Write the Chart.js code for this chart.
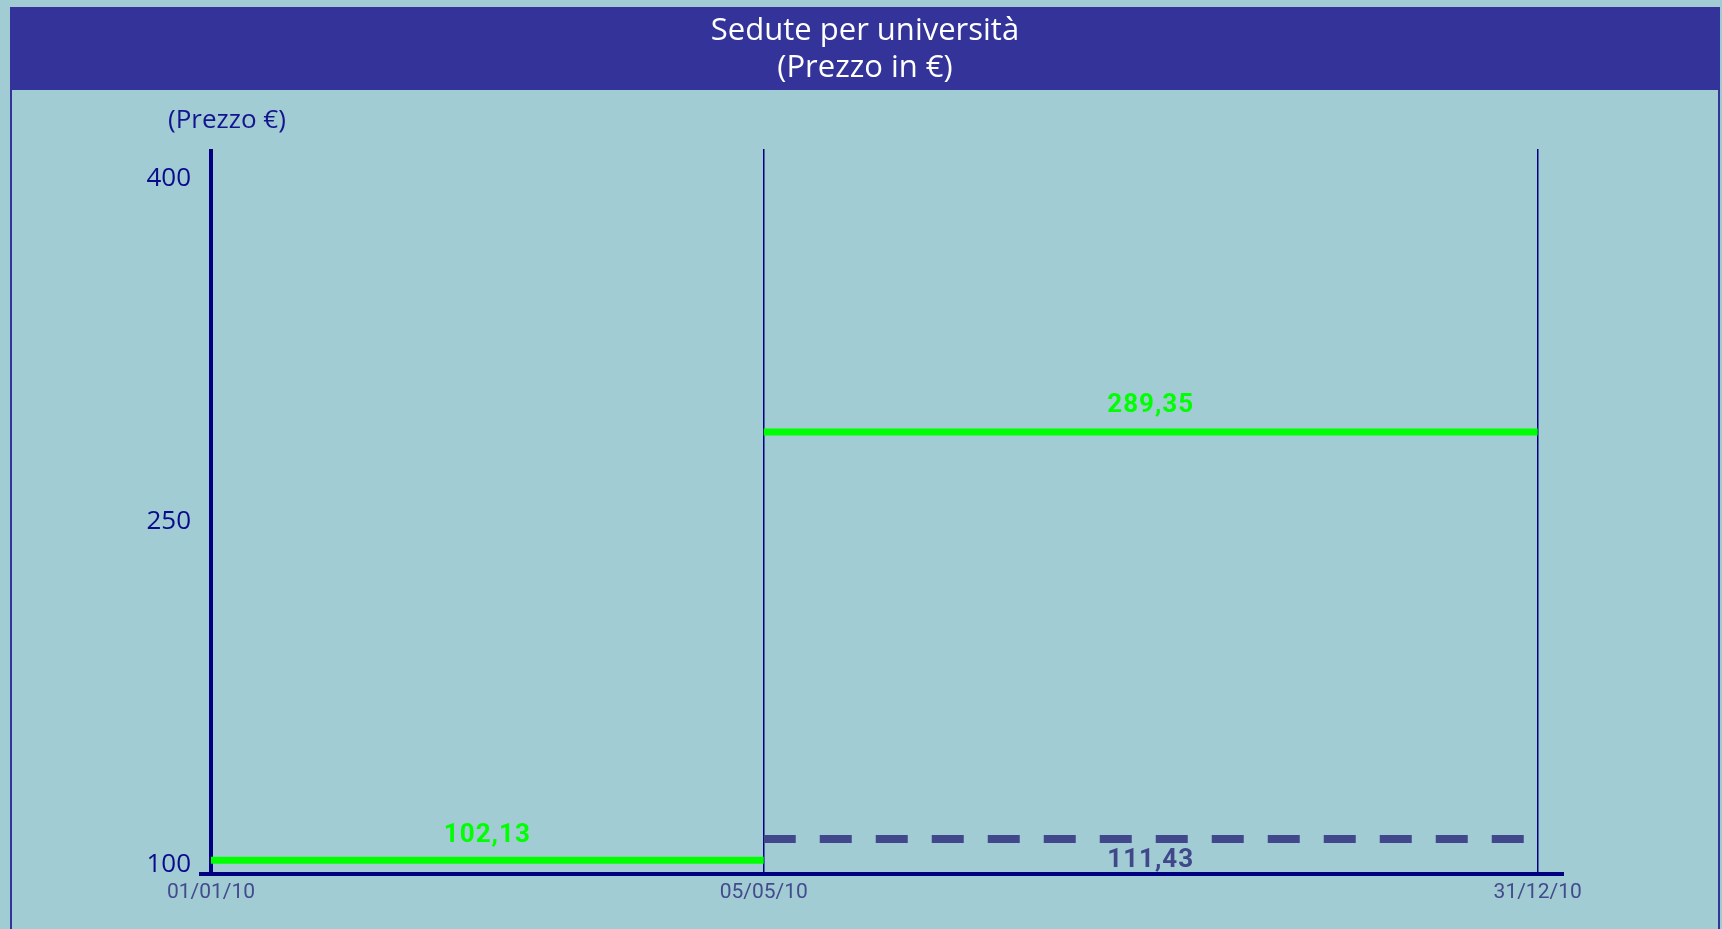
<!DOCTYPE html>
<html>
<head>
<meta charset="utf-8">
<title>Sedute per università</title>
<script src="https://cdn.jsdelivr.net/npm/chart.js@4"></script>
<style>
  html, body { margin: 0; padding: 0; background: #a2ccd3; overflow: hidden; }
</style>
</head>
<body>
<canvas id="chart" width="1722" height="929"></canvas>
<script>
// Periods (months from 01/01/10) and their date labels
const dateLabels = ["01/01/10", "05/05/10", "31/12/10"];
const monthPos = [0, 5, 12];

// Price per period
const prezzoUniversita = [102.13, 289.35];
const prezzoRiferimento = [null, 111.43];

const yTicks = [100, 250, 400];

const titleLines = ["Sedute per università", "(Prezzo in €)"];

const NAVY = "#000080";
const GREEN = "#00ff00";
const SLATE = "#40478a";

// Build one dataset per period segment
function segments(values, style) {
  const out = [];
  values.forEach((v, i) => {
    if (v === null) return;
    out.push(Object.assign({
      data: [{ x: monthPos[i], y: v }, { x: monthPos[i + 1], y: v }],
      showLine: true,
      pointRadius: 0,
      fill: false
    }, style(i)));
  });
  return out;
}

const datasets = [
  ...segments(prezzoUniversita, i => ({
    borderColor: GREEN, borderWidth: 7,
    labelColor: GREEN, labelOffset: i === 0 ? -25 : -27
  })),
  ...segments(prezzoRiferimento, () => ({
    borderColor: SLATE, borderWidth: 8, borderDash: [32, 24],
    labelColor: SLATE, labelOffset: 22
  }))
];

// Background, header band with title, and frame
const frame = {
  id: "frame",
  beforeDraw(chart) {
    const ctx = chart.ctx;
    ctx.save();
    ctx.fillStyle = "#a2ccd3";
    ctx.fillRect(0, 0, chart.width, chart.height);
    ctx.fillStyle = "#333399";
    ctx.fillRect(11, 7, 1708, 83);
    ctx.strokeStyle = "#333399";
    ctx.lineWidth = 2;
    ctx.beginPath();
    ctx.moveTo(11, 7); ctx.lineTo(11, chart.height);
    ctx.moveTo(1719, 7); ctx.lineTo(1719, chart.height);
    ctx.stroke();

    ctx.font = "31px 'Open Sans'";
    ctx.fillStyle = "#ffffff";
    ctx.textAlign = "center";
    ctx.textBaseline = "middle";
    titleLines.forEach((t, i) => ctx.fillText(t, chart.width / 2 + 4, 31 + i * 37));
    ctx.restore();
  }
};

// Value labels at the middle of each segment
const valueLabels = {
  id: "valueLabels",
  afterDatasetsDraw(chart) {
    const { ctx, scales: { x, y } } = chart;
    chart.data.datasets.forEach(ds => {
      const p = ds.data;
      const mx = x.getPixelForValue((p[0].x + p[1].x) / 2);
      const py = y.getPixelForValue(p[0].y);
      ctx.save();
      ctx.font = "bold 26px Roboto";
      ctx.letterSpacing = "1px";
      ctx.fillStyle = ds.labelColor;
      ctx.textAlign = "center";
      ctx.textBaseline = "middle";
      ctx.fillText(p[0].y.toFixed(2).replace(".", ","), mx, py + ds.labelOffset);
      ctx.restore();
    });
  }
};

// Horizontal y-axis title above the axis
const axisTitle = {
  id: "axisTitle",
  afterDraw(chart) {
    const ctx = chart.ctx;
    const x = chart.scales.x.getPixelForValue(0);
    ctx.save();
    ctx.font = "26px 'Open Sans'";
    ctx.fillStyle = "#14148f";
    ctx.textAlign = "center";
    ctx.textBaseline = "middle";
    ctx.fillText("(Prezzo €)", x + 16, 121);
    ctx.restore();
  }
};

new Chart(document.getElementById("chart"), {
  type: "scatter",
  data: { datasets },
  options: {
    responsive: false,
    animation: false,
    devicePixelRatio: 1,
    layout: { padding: { left: 0, right: 160, top: 149, bottom: 0 } },
    plugins: {
      legend: { display: false },
      tooltip: { enabled: false },
      title: { display: false }
    },
    scales: {
      x: {
        type: "linear",
        min: -0.09,
        max: 12.22,
        afterBuildTicks: s => { s.ticks = monthPos.map(v => ({ value: v })); },
        afterFit: s => { s.height = 55; },
        ticks: {
          callback: v => dateLabels[monthPos.indexOf(v)],
          color: "#434a8e",
          font: { family: "Roboto", size: 21 },
          padding: 6,
          maxRotation: 0,
          autoSkip: false
        },
        grid: {
          color: NAVY,
          lineWidth: c => (c.tick && c.tick.value === 0 ? 4 : 1.5),
          drawTicks: false
        },
        border: { display: true, color: NAVY, width: 4 }
      },
      y: {
        min: 96.1,
        max: 413.1,
        afterBuildTicks: s => { s.ticks = yTicks.map(v => ({ value: v })); },
        afterFit: s => { s.width = 201; },
        ticks: {
          color: "#0a0a8c",
          font: { family: "'Open Sans'", size: 26 },
          padding: 10
        },
        grid: { display: false, drawTicks: false },
        border: { display: false }
      }
    }
  },
  plugins: [frame, valueLabels, axisTitle]
});
</script>
</body>
</html>
